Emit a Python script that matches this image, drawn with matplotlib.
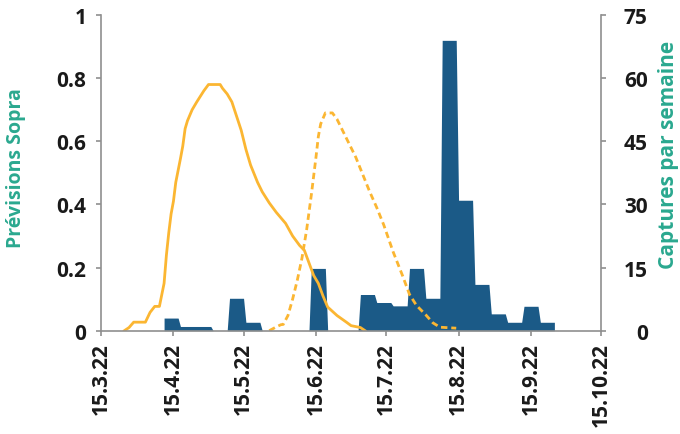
import numpy as np
import pandas as pd
import matplotlib
matplotlib.use('Agg')
import matplotlib.pyplot as plt
from matplotlib import rc

rc('font', family='Open Sans', weight='bold', size=15)

# Sopra forecast, solid line (left axis)
sopra_dates = ['2022-03-25', '2022-03-27', '2022-03-29', '2022-04-03', '2022-04-05',
               '2022-04-07', '2022-04-09', '2022-04-11', '2022-04-12', '2022-04-13',
               '2022-04-14', '2022-04-15', '2022-04-16', '2022-04-18', '2022-04-19',
               '2022-04-20', '2022-04-21', '2022-04-23', '2022-04-25', '2022-04-28',
               '2022-04-30', '2022-05-05', '2022-05-06', '2022-05-08', '2022-05-10',
               '2022-05-12', '2022-05-14', '2022-05-16', '2022-05-18', '2022-05-21',
               '2022-05-23', '2022-05-26', '2022-05-29', '2022-06-02', '2022-06-05',
               '2022-06-08', '2022-06-10', '2022-06-12', '2022-06-14', '2022-06-16',
               '2022-06-18', '2022-06-20', '2022-06-24', '2022-06-28', '2022-06-30',
               '2022-07-04', '2022-07-06']
sopra_vals = [0.0, 0.01, 0.027, 0.027, 0.058,
              0.077, 0.077, 0.15, 0.24, 0.31,
              0.37, 0.41, 0.47, 0.545, 0.585,
              0.64, 0.665, 0.70, 0.725, 0.76,
              0.78, 0.78, 0.768, 0.75, 0.725,
              0.68, 0.635, 0.575, 0.525, 0.47,
              0.44, 0.405, 0.375, 0.34, 0.30,
              0.27, 0.255, 0.215, 0.175, 0.15,
              0.11, 0.075, 0.048, 0.027, 0.016,
              0.01, 0.0]

# second generation forecast, dashed line (left axis)
gen2_dates = ['2022-05-26', '2022-05-29', '2022-05-31', '2022-06-01', '2022-06-03',
              '2022-06-05', '2022-06-07', '2022-06-09', '2022-06-11', '2022-06-13',
              '2022-06-15', '2022-06-16', '2022-06-17', '2022-06-19', '2022-06-22',
              '2022-06-24', '2022-06-27', '2022-06-30', '2022-07-02', '2022-07-05',
              '2022-07-08', '2022-07-11', '2022-07-14', '2022-07-18', '2022-07-22',
              '2022-07-25', '2022-07-28', '2022-08-01', '2022-08-04', '2022-08-07',
              '2022-08-14']
gen2_vals = [0.0, 0.012, 0.019, 0.02, 0.048,
             0.10, 0.16, 0.23, 0.32, 0.43,
             0.55, 0.615, 0.655, 0.69, 0.69,
             0.67, 0.625, 0.58, 0.55, 0.495,
             0.44, 0.39, 0.335, 0.25, 0.175,
             0.115, 0.08, 0.05, 0.025, 0.011,
             0.008]

# weekly trap captures (right axis), weeks starting on Mondays
week_start = '2022-04-11'
captures = [3, 1, 1, 0, 7.7, 2, 0, 0, 0, 14.8, 0, 0,
            8.6, 6.7, 5.9, 14.8, 7.7, 69, 31, 11, 4, 2, 5.8, 2]

tick_dates = ['2022-03-15', '2022-04-15', '2022-05-15', '2022-06-15',
              '2022-07-15', '2022-08-15', '2022-09-15', '2022-10-15']
tick_labels = ['15.3.22', '15.4.22', '15.5.22', '15.6.22',
               '15.7.22', '15.8.22', '15.9.22', '15.10.22']

orange = '#fbb632'
blue = '#1b5a87'
teal = '#2aa88f'
grey = '#8f8f8f'

fig = plt.figure(figsize=(6.8, 4.35), dpi=100)
ax = fig.add_axes([0.1485, 0.2375, 0.7355, 0.7255])
ax2 = ax.twinx()
ax.set_zorder(2)
ax2.set_zorder(1)
ax.patch.set_visible(False)

# captures: each weekly value held over its 7 days
days = pd.date_range(week_start, periods=len(captures) * 7, freq='D')
ax2.fill_between(days, np.repeat(captures, 7), 0, color=blue, lw=0)

ax.plot(pd.to_datetime(sopra_dates), sopra_vals, color=orange, lw=2.0)
ax.plot(pd.to_datetime(gen2_dates), gen2_vals, color=orange, lw=2.0,
        dashes=(2.3, 1.4))

ax.set_xlim(pd.Timestamp('2022-03-15'), pd.Timestamp('2022-10-15'))
ax.set_ylim(0, 1)
ax2.set_ylim(0, 75)

ax.set_xticks(pd.to_datetime(tick_dates))
ax.set_xticklabels(tick_labels, rotation=90)
ax.set_yticks([0, 0.2, 0.4, 0.6, 0.8, 1])
ax.set_yticklabels(['0', '0.2', '0.4', '0.6', '0.8', '1'])
ax2.set_yticks([0, 15, 30, 45, 60, 75])

for a in (ax, ax2):
    a.spines['top'].set_visible(False)
    for s in a.spines.values():
        s.set_color(grey)
        s.set_linewidth(1.2)
    a.tick_params(colors=grey, labelcolor='#1a1a1a', length=3.5, width=1.2)
ax.spines['right'].set_visible(False)
ax2.spines['left'].set_visible(False)
ax2.spines['bottom'].set_visible(False)
ax.tick_params(axis='y', pad=7)
ax.tick_params(axis='x', pad=5)
ax2.tick_params(axis='y', pad=30)
for t in ax2.get_yticklabels():
    t.set_horizontalalignment('right')

ax.set_ylabel('Prévisions Sopra', color=teal, fontsize=14, fontweight='bold')
ax.yaxis.set_label_coords(-0.15, 0.52)
ax2.set_ylabel('Captures par semaine', color=teal, fontsize=15, fontweight='bold')
ax2.yaxis.set_label_coords(1.114, 0.56)

plt.savefig('out.png', dpi=100)
